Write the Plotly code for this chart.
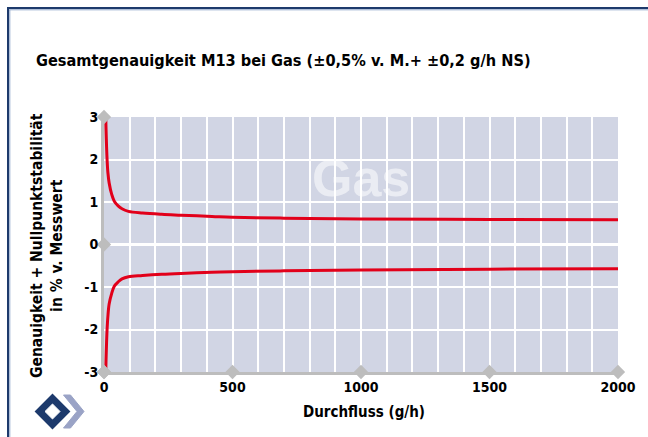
import plotly.graph_objects as go

# ---- data ----
flow = [7, 8, 10, 12, 15, 20, 30, 40, 55, 70, 95, 150, 225, 300, 420, 500, 700, 1000, 1500, 2000]
upper = [2.95, 2.7, 2.3, 2.0, 1.7, 1.45, 1.18, 1.02, 0.91, 0.84, 0.78, 0.74, 0.71, 0.69, 0.66, 0.64, 0.62, 0.60, 0.59, 0.58]
lower = [-2.95, -2.7, -2.3, -2.0, -1.7, -1.4, -1.15, -0.98, -0.88, -0.81, -0.76, -0.73, -0.70, -0.68, -0.655, -0.64, -0.62, -0.60, -0.58, -0.57]

x_ticks = [0, 500, 1000, 1500, 2000]
y_ticks = [-3, -2, -1, 0, 1, 2, 3]
y_marked = [-3, 0, 3]

title = "Gesamtgenauigkeit M13 bei Gas (±0,5% v. M.+ ±0,2 g/h NS)"
x_title = "Durchfluss (g/h)"
y_title = "Genauigkeit + Nullpunktstabilität<br>in % v. Messwert"
watermark = "Gas"

# ---- layout geometry ----
W, H = 648, 437
L, R, T, B = 104, 30, 117, 65
PW, PH = W - L - R, H - T - B


def px(x):
    return (x - L) / PW


def py(y):
    return (H - B - y) / PH


FONT = "DejaVu Sans Condensed, DejaVu Sans, sans-serif"
RED = "#e2001a"
AXIS = "#bdbdbd"
NAVY = "#1d3a6c"

fig = go.Figure()

fig.add_trace(go.Scatter(x=flow, y=upper, mode="lines", line=dict(color=RED, width=3, shape="spline"),
                         hoverinfo="skip", showlegend=False))
fig.add_trace(go.Scatter(x=flow, y=lower, mode="lines", line=dict(color=RED, width=3, shape="spline"),
                         hoverinfo="skip", showlegend=False))

# diamond tick markers on axes
fig.add_trace(go.Scatter(x=x_ticks, y=[y_ticks[0]] * len(x_ticks), mode="markers",
                         marker=dict(symbol="diamond", size=11, color=AXIS), cliponaxis=False,
                         hoverinfo="skip", showlegend=False))
fig.add_trace(go.Scatter(x=[x_ticks[0]] * len(y_marked), y=y_marked, mode="markers",
                         marker=dict(symbol="diamond", size=11, color=AXIS), cliponaxis=False,
                         hoverinfo="skip", showlegend=False))

fig.update_layout(
    width=W, height=H,
    margin=dict(l=L, r=R, t=T, b=B, pad=0),
    paper_bgcolor="white",
    plot_bgcolor="#d1d5e4",
    showlegend=False,
    font=dict(family=FONT, size=13, color="black"),
)

fig.update_xaxes(
    range=[0, 2000], tickvals=x_ticks, ticktext=[f"<b>{v}</b>" for v in x_ticks],
    showgrid=True, gridcolor="white", gridwidth=1.5,
    minor=dict(dtick=100, showgrid=True, gridcolor="white", gridwidth=1.5),
    showline=True, linecolor=AXIS, linewidth=3, zeroline=False,
    ticks="", tickfont=dict(family=FONT, size=14, color="black"),
    fixedrange=True,
)
fig.update_yaxes(
    range=[-3, 3], tickvals=y_ticks, ticktext=[f"<b>{v}</b>" for v in y_ticks],
    showgrid=True, gridcolor="white", gridwidth=1.5,
    zeroline=True, zerolinecolor="white", zerolinewidth=2.5,
    showline=True, linecolor=AXIS, linewidth=3,
    ticks="", tickfont=dict(family=FONT, size=14, color="black"),
    fixedrange=True,
)

# watermark
fig.add_annotation(x=1000, y=1.56, xref="x", yref="y", text=f"<b>{watermark}</b>", showarrow=False,
                   font=dict(family="Liberation Sans, Arial, sans-serif", size=52, color="rgba(255,255,255,0.55)"))

# title
fig.add_annotation(x=px(34), y=py(61), xref="paper", yref="paper", xanchor="left", yanchor="middle",
                   text=f"<b>{title}</b>", showarrow=False,
                   font=dict(family=FONT, size=16.2, color="black"))
# axis titles
fig.add_annotation(x=px(364), y=py(412), xref="paper", yref="paper", xanchor="center", yanchor="middle",
                   text=f"<b>{x_title}</b>", showarrow=False,
                   font=dict(family=FONT, size=15, color="black"))
fig.add_annotation(x=px(47), y=py(246), xref="paper", yref="paper", xanchor="center", yanchor="middle",
                   text="<b>" + y_title.replace("<br>", "</b><br><b>") + "</b>", showarrow=False, textangle=-90,
                   font=dict(family=FONT, size=15.5, color="black"))

# frame lines (top and left)
shapes = [
    dict(type="line", xref="paper", yref="paper", x0=px(8), x1=px(W), y0=py(8), y1=py(8),
         line=dict(color=NAVY, width=2)),
    dict(type="line", xref="paper", yref="paper", x0=px(8), x1=px(W), y0=py(9.8), y1=py(9.8),
         line=dict(color="#8ea4c8", width=1)),
    dict(type="line", xref="paper", yref="paper", x0=px(8), x1=px(8), y0=py(7), y1=py(H),
         line=dict(color=NAVY, width=2)),
    dict(type="line", xref="paper", yref="paper", x0=px(9.8), x1=px(9.8), y0=py(10), y1=py(H),
         line=dict(color="#8ea4c8", width=1)),
]

# logo: navy diamond ring + light chevron
cx, cy = 52.5, 411.5
ro, ri = 16.5, 7.5


def diamond_path(r):
    pts = [(cx, cy - r), (cx + r, cy), (cx, cy + r), (cx - r, cy)]
    return "M " + " L ".join(f"{px(a):.5f},{py(b):.5f}" for a, b in pts) + " Z"


shapes.append(dict(type="path", xref="paper", yref="paper", path=diamond_path(ro),
                   fillcolor=NAVY, line=dict(color=NAVY, width=2)))
shapes.append(dict(type="path", xref="paper", yref="paper", path=diamond_path(ri),
                   fillcolor="white", line=dict(color="white", width=1)))
chev = [(63.5, 395), (70.5, 395), (84, 411.5), (70.5, 428), (63.5, 428), (77, 411.5)]
shapes.append(dict(type="path", xref="paper", yref="paper",
                   path="M " + " L ".join(f"{px(a):.5f},{py(b):.5f}" for a, b in chev) + " Z",
                   fillcolor="#9aa3c6", line=dict(color="#9aa3c6", width=1)))

fig.update_layout(shapes=shapes)

fig.write_html("out.html", config={"displayModeBar": False},
               post_script="document.body.style.margin='0';")
